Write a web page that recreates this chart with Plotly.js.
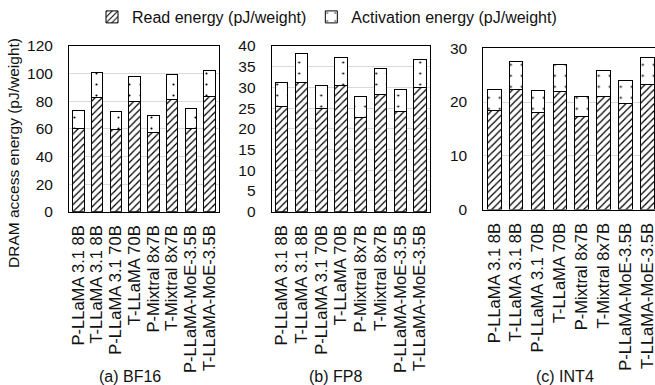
<!DOCTYPE html>
<html>
<head>
<meta charset="utf-8">
<script src="https://cdn.plot.ly/plotly-3.0.1.min.js"></script>
<style>
html,body{margin:0;padding:0;overflow:hidden;background:#fff;}
#chart{width:660px;height:385px;}
</style>
</head>
<body>
<div id="chart"></div>
<script>
var categories = ["P-LLaMA 3.1 8B","T-LLaMA 3.1 8B","P-LLaMA 3.1 70B","T-LLaMA 70B","P-Mixtral 8x7B","T-Mixtral 8x7B","P-LLaMA-MoE-3.5B","T-LLaMA-MoE-3.5B"];
var bf16Read = [60, 82.9, 59.4, 80, 57, 81.5, 60.6, 83.6];
var bf16Act  = [13.2, 18.2, 12.9, 17.7, 12.6, 17.9, 13.9, 18.5];
var fp8Read  = [25.4, 31.3, 24.8, 30.4, 22.7, 28.4, 24.2, 30.1];
var fp8Act   = [5.8, 6.9, 5.6, 6.8, 5.1, 6.1, 5.4, 6.7];
var int4Read = [18.4, 22.4, 18.1, 22.0, 17.3, 21.1, 19.7, 23.3];
var int4Act  = [4.0, 5.1, 4.0, 5.0, 3.8, 4.7, 4.3, 5.0];
var seriesNames = ["Read energy (pJ/weight)", "Activation energy (pJ/weight)"];
var panelTitles = ["(a) BF16", "(b) FP8", "(c) INT4"];

var W = 660, H = 385;
function px(x){ return x / W; }
function py(y){ return (H - y) / H; }

var readMarker = {color:'#ffffff', line:{color:'#000', width:1},
  pattern:{shape:'/', fgcolor:'#000', bgcolor:'#ffffff', size:5, solidity:0.25}};
var actMarker = {color:'#ffffff', line:{color:'#000', width:1},
  pattern:{shape:'.', fgcolor:'#000', bgcolor:'#ffffff', size:11, solidity:0.03}};

var panels = [[bf16Read, bf16Act], [fp8Read, fp8Act], [int4Read, int4Act]];
var traces = [];
panels.forEach(function(p, i){
  var ax = i === 0 ? '' : String(i+1);
  traces.push({type:'bar', x:categories, y:p[0], name:seriesNames[0], xaxis:'x'+ax, yaxis:'y'+ax,
    marker:readMarker, showlegend:i===0, legendgroup:'r', hoverinfo:'skip'});
  traces.push({type:'bar', x:categories, y:p[1], name:seriesNames[1], xaxis:'x'+ax, yaxis:'y'+ax,
    marker:actMarker, showlegend:i===0, legendgroup:'a', hoverinfo:'skip'});
});

var fontFam = '"Liberation Sans", Arial, sans-serif';
function xax(d){ return {domain:d, tickangle:-90, tickmode:'linear', tick0:0, dtick:1,
  tickfont:{family:fontFam, size:16.5, color:'#111'},
  showline:true, mirror:true, linecolor:'#000', linewidth:1, ticks:'', showgrid:false,
  ticklabelstandoff:6, fixedrange:true}; }
function yax(d, r, dt){ return {domain:d, range:r, dtick:dt, tick0:0, tickfont:{family:fontFam, size:15.5, color:'#111'},
  showline:true, mirror:true, linecolor:'#000', linewidth:1, ticks:'', showgrid:true, gridcolor:'#d9d9d9', gridwidth:1,
  zeroline:false, ticklabelstandoff:12, fixedrange:true}; }

var layout = {
  width:W, height:H, margin:{l:0,r:0,t:0,b:0}, paper_bgcolor:'#fff', plot_bgcolor:'#fff',
  barmode:'stack', bargap:0.38,
  font:{family:fontFam, color:'#111'},
  xaxis: xax([px(69), px(219)]),
  xaxis2: Object.assign(xax([px(271.7), px(430)]), {anchor:'y2'}),
  xaxis3: Object.assign(xax([px(483.3), px(658.2)]), {anchor:'y3'}),
  yaxis: yax([py(211.7), py(46)], [0,120], 20),
  yaxis2: Object.assign(yax([py(211.7), py(46)], [0,40], 5), {anchor:'x2'}),
  yaxis3: Object.assign(yax([py(209.5), py(48.3)], [0,30], 10), {anchor:'x3'}),
  legend:{orientation:'h', x:px(92), xanchor:'left', y:1, yanchor:'top',
    font:{family:fontFam, size:16, color:'#111'}, bgcolor:'rgba(0,0,0,0)', itemwidth:30, traceorder:'normal'},
  annotations:[
    {text:panelTitles[0], xref:'paper', yref:'paper', x:px(130), y:py(376), xanchor:'center', yanchor:'middle', showarrow:false, font:{family:fontFam, size:16, color:'#111'}},
    {text:panelTitles[1], xref:'paper', yref:'paper', x:px(335), y:py(376), xanchor:'center', yanchor:'middle', showarrow:false, font:{family:fontFam, size:16, color:'#111'}},
    {text:panelTitles[2], xref:'paper', yref:'paper', x:px(565), y:py(376), xanchor:'center', yanchor:'middle', showarrow:false, font:{family:fontFam, size:16, color:'#111'}},
    {text:'DRAM access energy (pJ/weight)', xref:'paper', yref:'paper', x:px(13), y:py(153), xanchor:'center', yanchor:'middle', textangle:-90, showarrow:false, font:{family:fontFam, size:15.5, color:'#111'}}
  ]
};

Plotly.newPlot('chart', traces, layout, {displayModeBar:false, staticPlot:true});
</script>
</body>
</html>
